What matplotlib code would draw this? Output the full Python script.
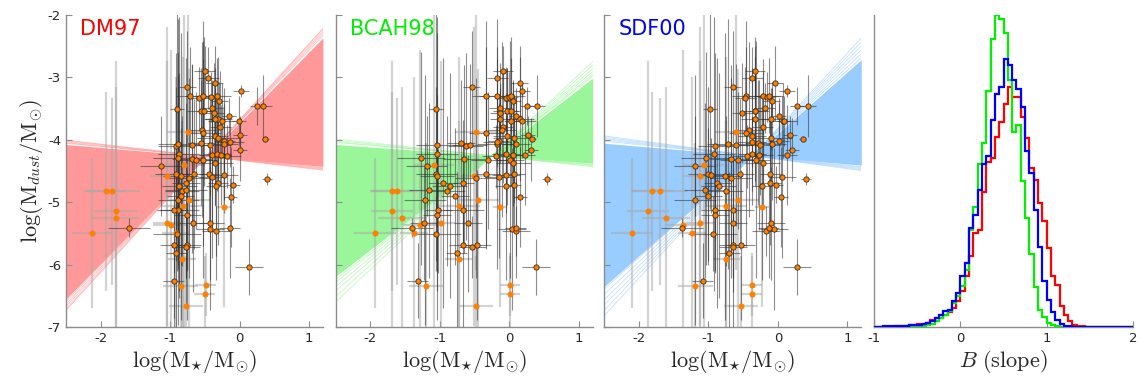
import numpy as np
import matplotlib
matplotlib.use('Agg')
import matplotlib.pyplot as plt

plt.rcParams['mathtext.fontset'] = 'cm'
plt.rcParams['axes.unicode_minus'] = False
plt.rcParams['font.family'] = 'DejaVu Sans'

# ---- data -------------------------------------------------------------
models = ['DM97', 'BCAH98', 'SDF00']
model_colors = ['#ff0000', '#00f000', '#0000ff']
fan_colors = ['#ff9999', '#99f799', '#99ccff']

# dust masses (shared by all three models), errors and detection flag
log_mdust = [-2.90, -3.01, -3.10, -3.22, -3.16, -3.31, -3.34, -3.31, -3.32, -3.30,
             -3.38, -3.46, -3.46, -3.51, -3.55, -3.55, -3.50, -3.57, -3.63, -3.67,
             -3.67, -3.70, -3.71, -3.80, -3.84, -3.90, -3.88, -3.92, -3.95, -3.97,
             -3.99, -4.11, -4.07, -4.09, -4.05, -4.08, -4.02, -4.04, -4.07, -4.16,
             -4.24, -4.23, -4.24, -4.27, -4.23, -4.30, -4.31, -4.33, -4.32, -4.37,
             -4.40, -4.43, -4.59, -4.55, -4.59, -4.62, -4.55, -4.55, -4.60, -4.57,
             -4.63, -4.69, -4.75, -4.72, -4.69, -4.74, -4.83, -4.81, -4.83, -4.83,
             -4.96, -4.91, -4.97, -4.92, -5.07, -5.13, -5.13, -5.08, -5.14, -5.26,
             -5.21, -5.49, -5.41, -5.34, -5.37, -5.49, -5.51, -5.34, -5.34, -5.43,
             -5.47, -5.42, -5.68, -5.68, -5.72, -5.82, -5.91, -6.04, -6.26, -6.35,
             -6.32, -6.47, -6.66]
log_mdust_err = [0.4, 0.5, 0.6, 0.1, 0.9, 0.8, 0.5, 0.6, 0.4, 0.6,
                 0.3, 0.3, 0.5, 1.6, 0.7, 1.2, 0.4, 0.8, 0.3, 1.0,
                 0.5, 0.6, 0.4, 0.9, 1.4, 1.8, 2.2, 0.3, 1.1, 0.7,
                 0.05, 1.5, 2.0, 1.3, 1.0, 0.8, 0.6, 0.4, 0.9, 0.5,
                 1.2, 0.6, 0.8, 0.5, 2.2, 1.7, 1.5, 1.1, 1.9, 0.7,
                 2.6, 0.8, 2.4, 1.4, 2.3, 1.6, 1.2, 0.9, 1.3, 0.6,
                 0.1, 1.0, 1.5, 0.3, 2.0, 1.8, 1.2, 1.4, 1.6, 1.5,
                 2.0, 1.1, 2.1, 0.8, 2.4, 0.6, 1.0, 1.6, 2.4, 2.1,
                 0.9, 1.2, 0.15, 2.6, 2.8, 2.5, 0.6, 1.1, 0.9, 1.3,
                 0.4, 0.8, 1.6, 1.2, 0.5, 1.3, 2.2, 0.45, 0.6, 2.3,
                 0.5, 0.6, 0.8]
detected = [1, 1, 1, 1, 1, 1, 1, 1, 1, 1,
            1, 1, 1, 1, 1, 1, 1, 1, 1, 1,
            1, 1, 1, 1, 1, 1, 0, 1, 1, 1,
            1, 1, 1, 1, 1, 1, 1, 1, 1, 1,
            1, 1, 1, 1, 1, 1, 1, 1, 1, 1,
            0, 1, 0, 1, 1, 1, 1, 1, 1, 1,
            1, 1, 1, 1, 1, 1, 1, 1, 0, 0,
            1, 1, 0, 1, 0, 1, 1, 0, 0, 0,
            1, 0, 1, 0, 0, 0, 1, 1, 1, 1,
            1, 1, 1, 1, 1, 1, 0, 1, 1, 0,
            0, 0, 0]
log_mstar_err = [0.15, 0.15, 0.12, 0.12, 0.12, 0.2, 0.15, 0.25, 0.12, 0.2,
                 0.12, 0.1, 0.12, 0.1, 0.2, 0.1, 0.15, 0.15, 0.1, 0.2,
                 0.15, 0.2, 0.1, 0.15, 0.2, 0.25, 0.3, 0.1, 0.2, 0.3,
                 0.05, 0.25, 0.3, 0.25, 0.2, 0.3, 0.15, 0.2, 0.2, 0.1,
                 0.2, 0.2, 0.15, 0.2, 0.3, 0.35, 0.3, 0.25, 0.2, 0.25,
                 0.3, 0.3, 0.25, 0.3, 0.25, 0.3, 0.2, 0.15, 0.2, 0.2,
                 0.07, 0.15, 0.15, 0.1, 0.2, 0.25, 0.25, 0.3, 0.3, 0.4,
                 0.3, 0.2, 0.3, 0.1, 0.3, 0.3, 0.2, 0.1, 0.3, 0.35,
                 0.2, 0.3, 0.3, 0.2, 0.25, 0.2, 0.35, 0.2, 0.2, 0.2,
                 0.2, 0.15, 0.2, 0.2, 0.2, 0.15, 0.2, 0.2, 0.15, 0.25,
                 0.15, 0.15, 0.25]

# stellar masses for each evolutionary model
mstar_dm97 = [-0.50, -0.45, -0.36, 0.02, -0.75, -0.72, -0.59, -0.53, -0.41, -0.33,
              -0.29, 0.25, 0.34, -0.90, -0.56, -0.51, -0.39, -0.37, -0.15, -0.31,
              -0.35, -0.26, -0.01, -0.28, -0.54, -0.52, -0.74, 0.00, -0.36, -0.31,
              0.37, -0.92, -0.88, -0.68, -0.55, -0.42, -0.22, -0.14, -0.22, 0.01,
              -0.39, -0.32, -0.27, -0.18, -0.87, -0.89, -0.68, -0.63, -0.52, -0.35,
              -0.80, -1.13, -1.04, -0.92, -0.85, -0.73, -0.66, -0.44, -0.40, -0.22,
              0.39, -0.31, -0.34, -0.10, -0.77, -0.87, -0.83, -0.77, -1.93, -1.84,
              -0.88, -0.85, -0.73, -0.13, -0.82, -0.89, -0.95, -0.23, -1.78, -1.78,
              -0.75, -2.12, -1.59, -1.04, -0.99, -0.91, -0.90, -0.67, -0.43, -0.43,
              -0.34, -0.14, -0.95, -0.75, -0.77, -0.91, -0.83, 0.14, -0.95, -0.85,
              -0.49, -0.50, -0.77]
mstar_bcah98 = [-0.09, -0.17, 0.15, 0.18, -0.54, -0.33, -0.05, -0.18, 0.00, 0.03,
                0.05, 0.26, 0.40, -1.05, -0.04, 0.02, -0.14, -0.13, 0.09, 0.15,
                -0.13, 0.19, 0.03, -0.09, -0.10, -0.33, -0.48, 0.27, -0.04, 0.07,
                0.33, -0.63, -0.17, -0.57, -0.69, -1.04, -0.15, -0.18, 0.10, 0.31,
                0.06, -0.05, 0.22, -0.19, -1.04, -1.27, -0.65, -0.30, 0.01, 0.06,
                -1.09, -1.19, -0.51, -1.05, -1.04, -0.48, -0.33, 0.07, -0.15, -0.05,
                0.54, -0.66, -0.05, 0.07, -0.95, -0.86, -0.89, -1.15, -1.69, -1.61,
                -1.21, -0.78, -0.45, 0.15, -0.72, -0.66, -1.02, -0.13, -1.69, -1.54,
                -1.04, -1.93, -1.40, -0.98, -1.28, -1.37, -1.05, -0.60, -1.23, 0.04,
                0.10, 0.09, -0.67, -0.47, -0.53, -0.76, -0.73, 0.38, -1.32, -1.20,
                0.01, 0.01, -0.48]
mstar_sdf00 = [-0.33, -0.37, -0.04, 0.13, -0.65, -0.46, -0.47, -0.22, -0.16, -0.13,
               -0.09, 0.28, 0.43, -0.98, -0.33, -0.33, -0.19, -0.51, 0.01, -0.33,
               -0.10, 0.07, 0.09, -0.22, -0.42, -0.46, -0.61, 0.17, -0.37, -0.10,
               0.36, -0.90, -0.72, -0.61, -0.28, -0.26, 0.01, -0.37, -0.08, 0.20,
               -0.27, -0.37, 0.13, -0.45, -0.92, -1.04, -0.68, -0.58, -0.31, -0.22,
               -1.07, -1.19, -1.12, -1.00, -0.76, -0.68, -0.55, -0.11, 0.06, -0.96,
               0.40, -0.11, -0.23, -0.03, -0.87, -0.85, -0.75, -1.05, -1.81, -1.70,
               -1.19, -1.00, -0.57, 0.05, -0.74, -0.65, -0.90, -0.23, -1.87, -1.61,
               -0.91, -2.10, -1.38, -1.12, -1.36, -1.24, -0.94, -0.65, -0.10, -0.06,
               -0.17, -0.13, -0.65, -0.53, -0.65, -0.70, -0.74, 0.28, -1.08, -1.19,
               -0.38, -0.38, -0.53]
mstar_all = [mstar_dm97, mstar_bcah98, mstar_sdf00]

# posterior fans of the linear fit: pivot, central slope range, outer samples
fan_pivot_x = [-0.48, -0.25, -0.37]
fan_pivot_y = [-4.27, -4.26, -4.26]
fan_slope_lo = [-0.095, -0.081, -0.095]
fan_slope_hi = [1.13, 0.857, 0.981]
fan_edge_slopes = [
    [-0.13, -0.125, -0.118, -0.11, -0.105, 1.15, 1.17, 1.19, 1.21, 1.22],
    [-0.12, -0.11, -0.10, -0.095, 0.88, 0.90, 0.93, 0.96, 1.00, 1.04],
    [-0.15, -0.14, -0.13, -0.12, -0.11, 1.00, 1.04, 1.08, 1.12, 1.16, 1.20],
]

# histogram of slope B, bins of 0.05 from -1 to 2
slope_edges = np.round(np.arange(-1.0, 2.0001, 0.05), 2)
hist_dm97 = [0, 0, 0, 0, 1, 2, 4, 4, 5, 6,
             8, 8, 12, 20, 27, 28, 37, 44, 57, 77,
             107, 152, 212, 282, 292, 404, 497, 507, 572, 617,
             669, 722, 690, 692, 632, 567, 477, 442, 372, 317,
             237, 152, 127, 62, 37, 17, 7, 4, 2, 1,
             0, 0, 0, 0, 0, 0, 0, 0, 0, 0]
hist_bcah98 = [0, 0, 0, 0, 0, 0, 0, 0, 1, 2,
               3, 4, 6, 9, 17, 27, 37, 47, 72, 92,
               122, 170, 292, 360, 490, 554, 710, 864, 938, 924,
               882, 742, 585, 607, 437, 327, 220, 120, 50, 30,
               12, 5, 2, 0, 0, 0, 0, 0, 0, 0,
               0, 0, 0, 0, 0, 0, 0, 0, 0, 0]
hist_sdf00 = [0, 0, 2, 2, 3, 3, 3, 3, 5, 6,
              7, 9, 12, 17, 27, 37, 47, 52, 77, 102,
              152, 192, 297, 337, 412, 490, 514, 622, 699, 722,
              805, 787, 742, 715, 660, 530, 462, 352, 240, 137,
              80, 45, 20, 8, 4, 2, 0, 0, 0, 0,
              0, 0, 0, 0, 0, 0, 0, 0, 0, 0]
hist_all = [hist_dm97, hist_bcah98, hist_sdf00]

# ---- figure -----------------------------------------------------------
fig = plt.figure(figsize=(11.41, 3.90), dpi=100)
ax_w, ax_h, ax_b = 0.2252, 0.8009, 0.1615
lefts = [0.0578, 0.2942, 0.5296, 0.7663]
axes = [fig.add_axes([l, ax_b, ax_w if i < 3 else 0.2265, ax_h]) for i, l in enumerate(lefts)]

spine_col = '#8c8c8c'
tick_col = '#262626'


def style_axis(ax):
    for side in ['top', 'right']:
        ax.spines[side].set_visible(False)
    for side in ['left', 'bottom']:
        ax.spines[side].set_color(spine_col)
        ax.spines[side].set_linewidth(1.0)
    ax.tick_params(direction='in', length=4, width=0.8, color=spine_col,
                   labelcolor=tick_col, labelsize=9.5)


xgrid = np.linspace(-2.5, 1.2, 300)
det = np.array(detected, dtype=bool)
ydat = np.array(log_mdust)
yerr = np.array(log_mdust_err)
xerr = np.array(log_mstar_err)

for i, ax in enumerate(axes[:3]):
    style_axis(ax)
    # fan of fitted lines
    core = np.array([fan_pivot_y[i] + s * (xgrid - fan_pivot_x[i])
                     for s in (fan_slope_lo[i], fan_slope_hi[i])])
    ax.fill_between(xgrid, core.min(axis=0), core.max(axis=0),
                    color=fan_colors[i], lw=0, zorder=1)
    for s in fan_edge_slopes[i]:
        ax.plot(xgrid, fan_pivot_y[i] + s * (xgrid - fan_pivot_x[i]),
                color=fan_colors[i], lw=0.6, alpha=0.6, zorder=1)

    xdat = np.array(mstar_all[i])
    # weak points: light error bars
    ax.errorbar(xdat[~det], ydat[~det], xerr=xerr[~det], yerr=yerr[~det],
                fmt='none', ecolor='#a8a8a8', elinewidth=1.6, alpha=0.5,
                capsize=0, zorder=2)
    ax.errorbar(xdat[det], ydat[det], xerr=xerr[det], yerr=yerr[det],
                fmt='none', ecolor='#303030', elinewidth=0.8, alpha=0.55,
                capsize=0, zorder=3)
    ax.plot(xdat[~det], ydat[~det], 'o', ms=3.8, mfc='#ff8000', mec='#ff8000',
            mew=0.5, zorder=4)
    ax.plot(xdat[det], ydat[det], 'o', ms=3.8, mfc='#ff8000', mec='#3a2a1a',
            mew=0.6, zorder=5)

    ax.set_xlim(-2.5, 1.2)
    ax.set_ylim(-7, -2)
    ax.set_xticks([-2, -1, 0, 1])
    ax.set_yticks([-7, -6, -5, -4, -3, -2])
    if i > 0:
        ax.set_yticklabels([])
    ax.set_xlabel(r'$\log(\mathrm{M}_{\star}/\mathrm{M}_{\odot})$', fontsize=16,
                  color=tick_col, labelpad=2)
    ax.text(0.055, 0.985, models[i], transform=ax.transAxes, ha='left', va='top',
            fontsize=15, color=model_colors[i])

axes[0].set_ylabel(r'$\log(\mathrm{M}_{dust}/\mathrm{M}_{\odot})$', fontsize=16,
                   color=tick_col, labelpad=2)

# slope histograms
axh = axes[3]
style_axis(axh)
for i in range(3):
    axh.stairs(hist_all[i], slope_edges, color=model_colors[i], lw=1.6, zorder=2 + i)
axh.set_xlim(-1, 2)
axh.set_ylim(0, 938)
axh.set_xticks([-1, 0, 1, 2])
axh.set_yticks([])
axh.set_xlabel(r'$B\ \mathrm{(slope)}$', fontsize=16, color=tick_col, labelpad=2)

fig.savefig('out.png', dpi=100)
